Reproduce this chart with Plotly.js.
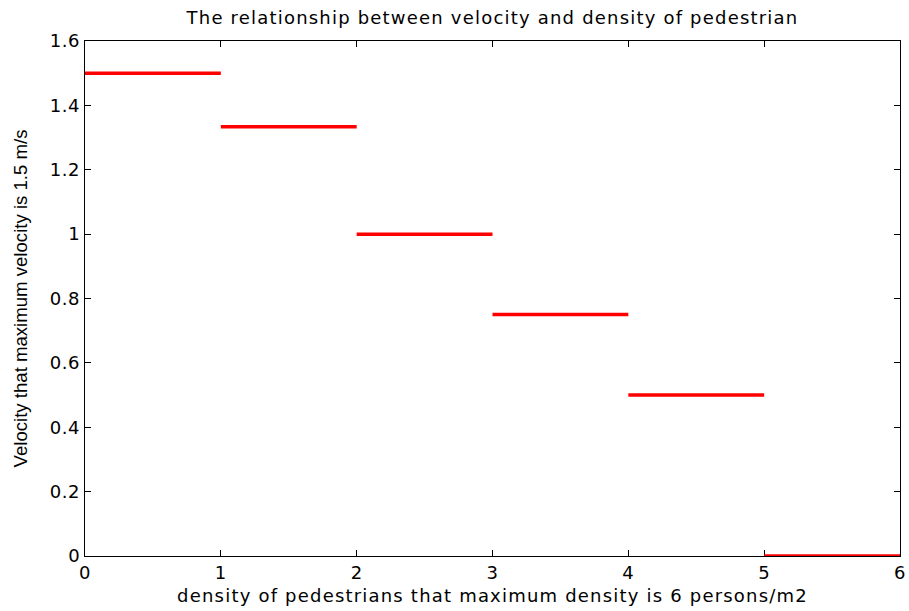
<!DOCTYPE html>
<html>
<head>
<meta charset="utf-8">
<script src="https://cdn.plot.ly/plotly-3.0.1.min.js"></script>
<style>
html,body{margin:0;padding:0;background:#fff;}
#chart{width:909px;height:611px;}
#chart .gtitle, #chart .xtitle{letter-spacing:1.2px;}
#chart .xtick text, #chart .ytick text{letter-spacing:0.6px;}
</style>
</head>
<body>
<div id="chart"></div>
<script>
// Data
const densityStart = [0, 1, 2, 3, 4, 5];
const densityEnd = [1, 2, 3, 4, 5, 6];
const velocity = [1.5, 1.3333, 1.0, 0.75, 0.5, 0];
const xTickVals = [0, 1, 2, 3, 4, 5, 6];
const yTickVals = [0, 0.2, 0.4, 0.6, 0.8, 1, 1.2, 1.4, 1.6];
const yTickText = ['0', '0.2', '0.4', '0.6', '0.8', '1', '1.2', '1.4', '1.6'];

const xs = [], ys = [];
for (let i = 0; i < velocity.length; i++) {
  xs.push(densityStart[i], densityEnd[i], null);
  ys.push(velocity[i], velocity[i], null);
}

const traces = [{
  x: xs, y: ys, type: 'scatter', mode: 'lines',
  line: {color: '#ff0000', width: 3.5},
  connectgaps: false, cliponaxis: false, hoverinfo: 'skip', showlegend: false
}];

const font = 'DejaVu Sans, Liberation Sans, Arial, sans-serif';
const layout = {
  width: 909, height: 611,
  margin: {l: 85, r: 9, t: 41, b: 55},
  paper_bgcolor: '#fff', plot_bgcolor: '#fff',
  font: {family: font, color: '#000', size: 18},
  title: {text: 'The relationship between velocity and density of pedestrian',
          font: {family: font, size: 18, color: '#000'},
          x: 0.5, xref: 'paper', xanchor: 'center', y: 1 - 18/611, yref: 'container', yanchor: 'middle'},
  xaxis: {
    range: [0, 6], tickvals: xTickVals, ticktext: xTickVals.map(String),
    showline: true, mirror: 'ticks', linecolor: '#000', linewidth: 1.2,
    ticks: 'inside', ticklen: 6, tickcolor: '#000', tickwidth: 1,
    showgrid: false, zeroline: false, layer: 'below traces',
    tickfont: {size: 18, family: font},
    title: {text: 'density of pedestrians that maximum density is 6 persons/m2',
            font: {size: 18, family: font}, standoff: 7}
  },
  yaxis: {
    range: [0, 1.6], tickvals: yTickVals, ticktext: yTickText,
    showline: true, mirror: 'ticks', linecolor: '#000', linewidth: 1.2,
    ticks: 'inside', ticklen: 6, tickcolor: '#000', tickwidth: 1,
    showgrid: false, zeroline: false, layer: 'below traces',
    tickfont: {size: 18, family: font},
    title: {text: 'Velocity that maximum velocity is 1.5 m/s',
            font: {size: 18.6, family: 'Liberation Sans, Arial, sans-serif'}, standoff: 19}
  }
};

Plotly.newPlot('chart', traces, layout, {displayModeBar: false, staticPlot: true});
</script>
</body>
</html>
